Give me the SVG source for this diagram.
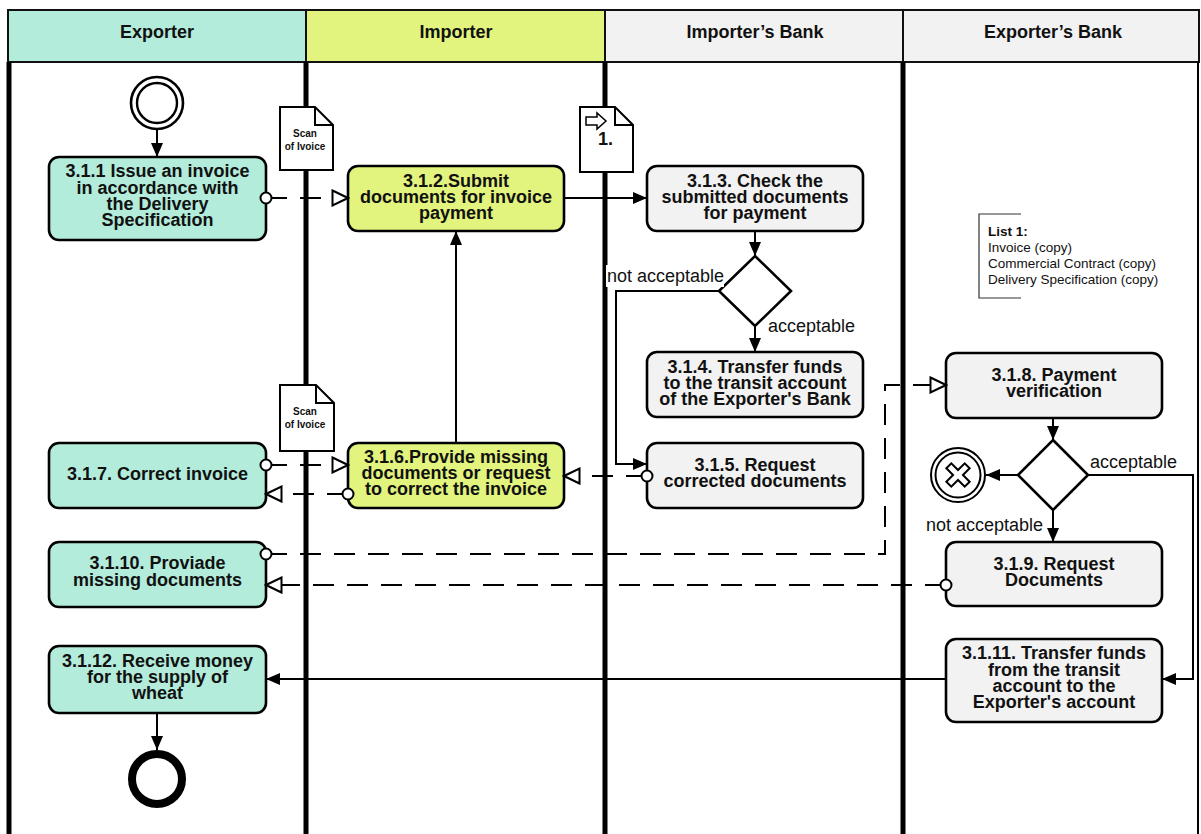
<svg xmlns="http://www.w3.org/2000/svg" width="1201" height="834" viewBox="0 0 1201 834">
<style>
.hdr{stroke:#111;stroke-width:2}
.lane{stroke:#000;stroke-width:5}
.ht{font-family:"Liberation Sans",Arial,sans-serif;font-weight:bold;font-size:18px;fill:#111;text-anchor:middle}
.box{stroke:#000;stroke-width:2.6}
.exp{fill:#b3ecdb}
.imp{fill:#e2f47d}
.bank{fill:#f2f2f2}
.nt{font-family:"Liberation Sans",Arial,sans-serif;font-weight:bold;font-size:18px;fill:#111;text-anchor:middle}
.lbl{font-family:"Liberation Sans",Arial,sans-serif;font-size:18px;fill:#111}
.doc{fill:#fff;stroke:#000;stroke-width:2;stroke-linejoin:miter}
.dt{font-family:"Liberation Sans",Arial,sans-serif;font-weight:bold;font-size:10px;fill:#111;text-anchor:middle}
.seq{fill:none;stroke:#000;stroke-width:2;marker-end:url(#arr)}
.msg{fill:none;stroke:#000;stroke-width:2;stroke-dasharray:21 13;marker-start:url(#mstart);marker-end:url(#mend)}
.gw{fill:#fff;stroke:#000;stroke-width:2.6;stroke-linejoin:miter}
.lt{font-family:"Liberation Sans",Arial,sans-serif;font-size:13.5px;fill:#111}
</style>
<defs>
<marker id="arr" markerUnits="userSpaceOnUse" markerWidth="16" markerHeight="14" refX="15" refY="7" orient="auto">
<path d="M1,1 L15,7 L1,13 z" fill="#000"/>
</marker>
<marker id="mend" markerUnits="userSpaceOnUse" markerWidth="19" markerHeight="18" refX="17" refY="9" orient="auto">
<path d="M1.5,1.5 L17,9 L1.5,16.5 z" fill="#fff" stroke="#000" stroke-width="2" stroke-dasharray="none"/>
</marker>
<marker id="mstart" markerUnits="userSpaceOnUse" markerWidth="14" markerHeight="14" refX="7" refY="7" orient="auto">
<circle cx="7" cy="7" r="5.5" fill="#fff" stroke="#000" stroke-width="2" stroke-dasharray="none"/>
</marker>
</defs>
<rect x="0" y="0" width="1201" height="834" fill="#fff"/>

<g id="lanes">
<rect class="hdr exp" x="8" y="10" width="298" height="52"/>
<rect class="hdr imp" x="306" y="10" width="299" height="52"/>
<rect class="hdr bank" x="605" y="10" width="298" height="52"/>
<rect class="hdr bank" x="903" y="10" width="296" height="52"/>
<text class="ht" x="157" y="38">Exporter</text>
<text class="ht" x="456" y="38">Importer</text>
<text class="ht" x="755" y="38">Importer’s Bank</text>
<text class="ht" x="1053" y="38">Exporter’s Bank</text>
<line class="lane" x1="9" y1="62" x2="9" y2="834" stroke-width="4"/>
<line class="lane" x1="306" y1="62" x2="306" y2="834"/>
<line class="lane" x1="605" y1="62" x2="605" y2="834"/>
<line class="lane" x1="903" y1="62" x2="903" y2="834"/>
<line x1="1198" y1="62" x2="1198" y2="834" stroke="#000" stroke-width="2"/>
</g>

<g id="start">
<circle cx="157" cy="103" r="26" fill="#fff" stroke="#000" stroke-width="2.6"/>
<circle cx="157" cy="103" r="20" fill="none" stroke="#000" stroke-width="2.4"/>
</g>

<g id="n311">
<rect class="box exp" x="49" y="157" width="217" height="83" rx="10"/>
<text class="nt"><tspan x="157.5" y="177">3.1.1 Issue an invoice</tspan><tspan x="157.5" y="193.5">in accordance with</tspan><tspan x="157.5" y="210">the Delivery</tspan><tspan x="157.5" y="226">Specification</tspan></text>
</g>

<g id="doc1">
<path class="doc" d="M280,107 H315 L333,125 V170 H280 Z M315,107 V125 H333"/>
<text class="dt"><tspan x="305" y="137">Scan</tspan><tspan x="305" y="150">of Ivoice</tspan></text>
</g>

<g id="n312">
<rect class="box imp" x="348" y="166" width="216" height="65" rx="10"/>
<text class="nt"><tspan x="456" y="187">3.1.2.Submit</tspan><tspan x="456" y="203">documents for invoice</tspan><tspan x="456" y="219">payment</tspan></text>
</g>

<g id="doc2">
<path class="doc" d="M580,107 H615 L633,125 V172 H580 Z M615,107 V125 H633"/>
<polygon points="586,117 597,117 597,113 606,121 597,129 597,125 586,125" fill="#fff" stroke="#000" stroke-width="1.5"/>
<text x="598" y="145" font-family="Liberation Sans, Arial, sans-serif" font-weight="bold" font-size="18" fill="#111">1.</text>
</g>

<g id="n313">
<rect class="box bank" x="647" y="166" width="216" height="65" rx="10"/>
<text class="nt"><tspan x="755" y="187">3.1.3. Check the</tspan><tspan x="755" y="203">submitted documents</tspan><tspan x="755" y="219">for payment</tspan></text>
</g>

<g id="gw1">
<polygon class="gw" points="755,256 791,291 755,326 719,291"/>
</g>

<g id="n314">
<rect class="box bank" x="647" y="352" width="216" height="65" rx="10"/>
<text class="nt"><tspan x="755" y="373">3.1.4. Transfer funds</tspan><tspan x="755" y="389">to the transit account</tspan><tspan x="755" y="405">of the Exporter's Bank</tspan></text>
</g>

<g id="n315">
<rect class="box bank" x="647" y="443" width="216" height="65" rx="10"/>
<text class="nt"><tspan x="755" y="471">3.1.5. Request</tspan><tspan x="755" y="487">corrected documents</tspan></text>
</g>

<g id="doc3">
<path class="doc" d="M280,385 H316 L334,403 V451 H280 Z M316,385 V403 H334"/>
<text class="dt"><tspan x="305" y="415">Scan</tspan><tspan x="305" y="428">of Ivoice</tspan></text>
</g>

<g id="n316">
<rect class="box imp" x="348" y="443" width="216" height="65" rx="10"/>
<text class="nt"><tspan x="456" y="463">3.1.6.Provide missing</tspan><tspan x="456" y="479">documents or request</tspan><tspan x="456" y="495">to correct the invoice</tspan></text>
</g>

<g id="n317">
<rect class="box exp" x="49" y="443" width="217" height="65" rx="10"/>
<text class="nt" x="157.5" y="480">3.1.7. Correct invoice</text>
</g>

<g id="n318">
<rect class="box bank" x="946" y="353" width="216" height="65" rx="10"/>
<text class="nt"><tspan x="1054" y="381">3.1.8. Payment</tspan><tspan x="1054" y="397">verification</tspan></text>
</g>

<g id="gw2">
<polygon class="gw" points="1053,440 1088,475 1053,510 1018,475"/>
</g>

<g id="cancel">
<circle cx="958" cy="475" r="27" fill="#fff" stroke="#000" stroke-width="2"/>
<circle cx="958" cy="475" r="22.5" fill="none" stroke="#000" stroke-width="2"/>
<polygon transform="translate(958 475) rotate(45)" points="-3.5,-13 3.5,-13 3.5,-3.5 13,-3.5 13,3.5 3.5,3.5 3.5,13 -3.5,13 -3.5,3.5 -13,3.5 -13,-3.5 -3.5,-3.5" fill="#fff" stroke="#000" stroke-width="2"/>
</g>

<g id="n319">
<rect class="box bank" x="946" y="542" width="216" height="64" rx="10"/>
<text class="nt"><tspan x="1054" y="570">3.1.9. Request</tspan><tspan x="1054" y="586">Documents</tspan></text>
</g>

<g id="n3110">
<rect class="box exp" x="49" y="542" width="217" height="65" rx="10"/>
<text class="nt"><tspan x="157.5" y="569">3.1.10. Proviade</tspan><tspan x="157.5" y="586">missing documents</tspan></text>
</g>

<g id="n3111">
<rect class="box bank" x="946" y="639" width="216" height="83" rx="10"/>
<text class="nt"><tspan x="1054" y="659">3.1.11. Transfer funds</tspan><tspan x="1054" y="675.5">from the transit</tspan><tspan x="1054" y="692">account to the</tspan><tspan x="1054" y="708">Exporter's account</tspan></text>
</g>

<g id="n3112">
<rect class="box exp" x="49" y="646" width="217" height="67" rx="10"/>
<text class="nt"><tspan x="157.5" y="667">3.1.12. Receive money</tspan><tspan x="157.5" y="683">for the supply of</tspan><tspan x="157.5" y="699">wheat</tspan></text>
</g>

<g id="end">
<circle cx="157" cy="779" r="25" fill="#fff" stroke="#000" stroke-width="8"/>
</g>

<g id="list1">
<path d="M1021,214 H979 V298 H1021" fill="none" stroke="#333" stroke-width="1.2"/>
<text class="lt" x="988" y="236" font-weight="bold">List 1:</text>
<text class="lt" x="988" y="252">Invoice (copy)</text>
<text class="lt" x="988" y="268">Commercial Contract (copy)</text>
<text class="lt" x="988" y="284">Delivery Specification (copy)</text>
</g>

<g id="connectors">
<path class="seq" d="M157,129 V157"/>
<path class="seq" d="M564,198 H647"/>
<path class="seq" d="M755,231 V256"/>
<path class="seq" d="M755,326 V352"/>
<path class="seq" d="M719,291 H616 V464 H647"/>
<path class="seq" d="M456,443 V231"/>
<path class="seq" d="M1053,418 V440"/>
<path class="seq" d="M1018,475 H986"/>
<path class="seq" d="M1053,510 V542"/>
<path class="seq" d="M1088,475 H1193 V679 H1162"/>
<path class="seq" d="M946,679 H266"/>
<path class="seq" d="M157,713 V750"/>
<path class="msg" d="M266,198 H348"/>
<path class="msg" d="M266,465 H348"/>
<path class="msg" d="M348,494 H266"/>
<path class="msg" d="M647,476 H564"/>
<path class="msg" d="M266,554 H885 V385 H946"/>
<path class="msg" d="M946,585 H266"/>
</g>

<g id="labels">
<rect x="606" y="265" width="118" height="22" fill="#fff"/>
<text class="lbl" x="607" y="282">not acceptable</text>
<text class="lbl" x="768" y="332">acceptable</text>
<text class="lbl" x="1090" y="468">acceptable</text>
<text class="lbl" x="926" y="531">not acceptable</text>
</g>
</svg>
